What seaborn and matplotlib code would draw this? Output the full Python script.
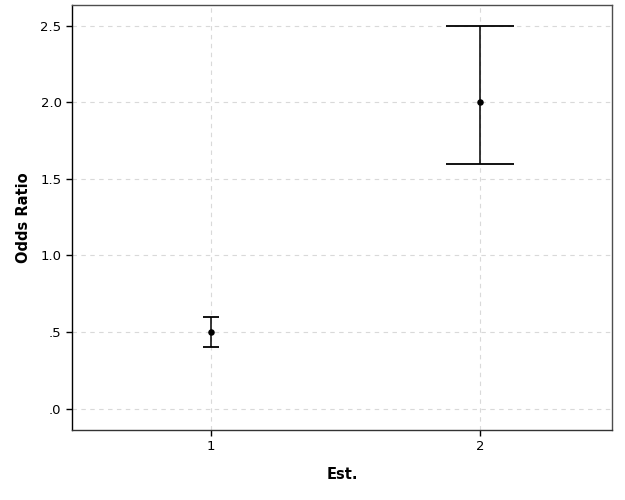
import matplotlib
matplotlib.use("Agg")
import matplotlib.pyplot as plt
import seaborn as sns
import pandas as pd

categories = ["1", "2"]
x_pos = [1, 2]
odds_ratio = [0.5, 2.0]
lower = [0.4, 1.6]
upper = [0.6, 2.5]
cap_sizes = [5.5, 24.7]  # points (cap half-width)
y_ticks = [0.0, 0.5, 1.0, 1.5, 2.0, 2.5]
y_tick_labels = [".0", ".5", "1.0", "1.5", "2.0", "2.5"]

sns.set_style("white")
plt.rcParams['font.family'] = ['DejaVu Sans']

df = pd.DataFrame({"x": x_pos, "or": odds_ratio, "lo": lower, "hi": upper})

fig = plt.figure(figsize=(6.25, 5), dpi=100)
ax = fig.add_axes([72/625, 70/500, 540/625, 425/500])

for i, row in df.iterrows():
    ax.errorbar(row["x"], row["or"],
                yerr=[[row["or"] - row["lo"]], [row["hi"] - row["or"]]],
                fmt="none", ecolor="black", elinewidth=1.1,
                capsize=cap_sizes[i], capthick=1.3, zorder=3)

sns.scatterplot(data=df, x="x", y="or", ax=ax, color="black", s=22,
                edgecolor="black", linewidth=0, zorder=4, legend=False)

ax.set_xlim(0.483, 2.491)
ax.set_ylim(-0.139, 2.635)
ax.set_xticks(x_pos)
ax.set_xticklabels(categories)
ax.set_yticks(y_ticks)
ax.set_yticklabels(y_tick_labels)

ax.grid(True, color="#d9d9d9", linestyle=(0, (4, 4)), linewidth=0.8)
ax.set_axisbelow(True)

for sp in ax.spines.values():
    sp.set_visible(True)
    sp.set_color("#4d4d4d")
    sp.set_linewidth(1.0)
ax.spines["left"].set_color("black")
ax.spines["bottom"].set_color("#333333")

ax.tick_params(axis="both", direction="out", length=4, width=1, color="black",
               labelsize=9.5, labelcolor="black", bottom=True, left=True)

ax.set_xlabel("Est.", fontsize=10.5, fontweight="bold", labelpad=10, color="black")
ax.set_ylabel("Odds Ratio", fontsize=10.5, fontweight="bold", labelpad=7, color="black")

fig.savefig("out.png", dpi=100)
